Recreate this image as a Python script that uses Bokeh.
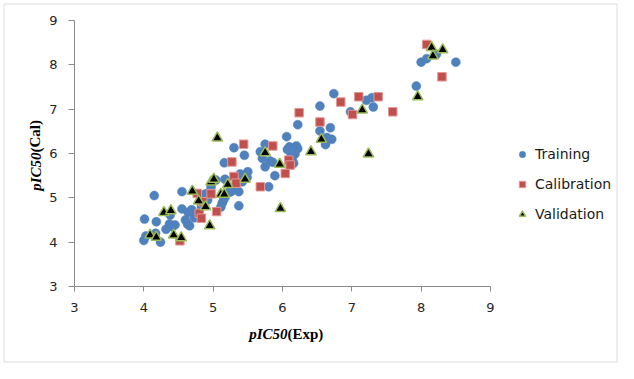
from bokeh.plotting import figure
from bokeh.models import (Range1d, Label, Legend, LegendItem, FixedTicker,
                          LinearAxis, BoxAnnotation)
from bokeh.embed import file_html
from bokeh.resources import INLINE

# ---- data ----
train_x = [4.00, 4.01, 4.03, 4.15, 4.18, 4.17, 4.24, 4.32, 4.37, 4.41, 4.45, 4.38,
           4.55, 4.55, 4.60, 4.63, 4.66, 4.64, 4.69, 4.73, 4.78, 4.83, 4.85, 4.88,
           4.92, 4.94, 4.97, 5.04, 5.11, 5.13, 5.15, 5.17, 5.17, 5.16, 5.22, 5.26,
           5.30, 5.33, 5.37, 5.39, 5.37, 5.42, 5.45, 5.49, 5.50, 5.68, 5.71, 5.75,
           5.75, 5.80, 5.82, 5.86, 5.89, 6.06, 6.07, 6.10, 6.12, 6.14, 6.16, 6.18,
           6.20, 6.22, 6.22, 6.54, 6.54, 6.62, 6.64, 6.69, 6.71, 6.74, 6.98, 7.21,
           7.29, 7.31, 7.93, 8.00, 8.08, 8.22, 8.50]
train_y = [4.04, 4.52, 4.14, 5.05, 4.46, 4.20, 4.00, 4.29, 4.41, 4.35, 4.39, 4.61,
           5.14, 4.75, 4.50, 4.41, 4.37, 4.67, 4.73, 4.55, 4.64, 4.80, 4.95, 5.08,
           4.95, 5.12, 5.25, 5.40, 4.79, 4.88, 4.95, 5.01, 5.42, 5.79, 5.12, 5.14,
           6.13, 5.27, 5.14, 5.54, 4.82, 5.36, 5.96, 5.46, 5.59, 6.04, 5.89, 6.21,
           5.70, 5.25, 5.83, 5.80, 5.50, 6.38, 6.09, 6.15, 5.93, 5.85, 5.78, 5.99,
           6.17, 6.65, 6.11, 7.07, 6.51, 6.20, 6.36, 6.58, 6.32, 7.35, 6.94, 7.20,
           7.26, 7.05, 7.52, 8.06, 8.14, 8.24, 8.06]

cal_x = [4.52, 4.77, 4.80, 4.83, 4.85, 4.97, 5.05, 5.27, 5.30, 5.33, 5.44, 5.68,
         5.86, 6.04, 6.09, 6.11, 6.24, 6.54, 6.84, 7.01, 7.10, 7.38, 7.59, 8.08, 8.30]
cal_y = [4.03, 5.10, 4.65, 4.54, 4.91, 5.09, 4.69, 5.81, 5.48, 5.33, 6.21, 5.25,
         6.17, 5.55, 5.85, 5.74, 6.92, 6.71, 7.16, 6.88, 7.28, 7.28, 6.94, 8.46, 7.73]

val_x = [4.09, 4.18, 4.29, 4.39, 4.43, 4.54, 4.70, 4.79, 4.89, 4.95, 4.97, 5.01,
         5.06, 5.11, 5.16, 5.21, 5.46, 5.75, 5.96, 5.97, 6.41, 6.56, 7.15, 7.24,
         7.95, 8.15, 8.17, 8.31]
val_y = [4.16, 4.11, 4.67, 4.71, 4.16, 4.10, 5.15, 4.93, 4.80, 4.37, 5.36, 5.42,
         6.35, 5.08, 5.08, 5.30, 5.42, 6.02, 5.76, 4.76, 6.04, 6.32, 6.98, 5.99,
         7.28, 8.39, 8.20, 8.34]

x_ticks = [3, 4, 5, 6, 7, 8, 9]
y_ticks = [3, 4, 5, 6, 7, 8, 9]
series_names = ["Training", "Calibration", "Validation"]

# ---- layout constants (pixels) ----
W, H = 618, 363
FL, FR, FT, FB = 74, 490, 20, 286          # where 3..9 sits on the canvas
sx = (FR - FL) / 6.0
sy = (FB - FT) / 6.0
x_lo, x_hi = 3 - FL / sx, 3 + (W - FL) / sx
y_lo, y_hi = 3 - (H - FB) / sy, 9 + FT / sy


def dx(px):
    return 3 + (px - FL) / sx


def dy(py):
    return 3 + (FB - py) / sy


p = figure(width=W, height=H, output_backend="svg", toolbar_location=None,
           x_range=Range1d(x_lo, x_hi), y_range=Range1d(y_lo, y_hi),
           x_axis_location=None, y_axis_location=None,
           min_border=0, min_border_left=0, min_border_right=0,
           min_border_top=0, min_border_bottom=0)
p.outline_line_color = None
p.xgrid.visible = False
p.ygrid.visible = False
p.background_fill_color = "white"
p.border_fill_color = "white"

# outer chart border
p.add_layout(BoxAnnotation(left=dx(3.5), right=dx(616.5), top=dy(3.5), bottom=dy(361.5),
                           fill_alpha=0, line_color="#8a8a8a", line_width=1))

xaxis = LinearAxis(fixed_location=3, bounds=(3, 9), ticker=FixedTicker(ticks=x_ticks))
yaxis = LinearAxis(fixed_location=3, bounds=(3, 9), ticker=FixedTicker(ticks=y_ticks))
p.add_layout(xaxis, "below")
p.add_layout(yaxis, "left")

for ax, standoff, tout in ((xaxis, 11, 5), (yaxis, 11, 6)):
    ax.axis_line_color = "#8a8a8a"
    ax.major_tick_line_color = "#8a8a8a"
    ax.major_tick_out = tout
    ax.major_tick_in = 0
    ax.minor_tick_line_color = None
    ax.major_label_text_font = "DejaVu Sans"
    ax.major_label_text_font_size = "13px"
    ax.major_label_text_color = "#262626"
    ax.major_label_standoff = standoff

r_train = p.scatter(train_x, train_y, marker="circle", size=9,
                    fill_color="#4F81BD", line_color="#4F81BD", line_width=0.5)
r_cal = p.scatter(cal_x, cal_y, marker="square", size=8.5,
                  fill_color="#C0504D", line_color="#E59896", line_width=1)
r_val = p.scatter(val_x, val_y, marker="triangle", size=10.5,
                  fill_color="#000000", line_color="#9BBB59", line_width=1.5)

legend = Legend(items=[LegendItem(label=series_names[0], renderers=[r_train]),
                       LegendItem(label=series_names[1], renderers=[r_cal]),
                       LegendItem(label=series_names[2], renderers=[r_val])],
                location=(514, 141), background_fill_alpha=0, border_line_alpha=0,
                padding=0, margin=0, spacing=14, glyph_height=16, glyph_width=16,
                label_standoff=5, label_text_font="DejaVu Sans",
                label_text_font_size="14px", label_text_color="#1a1a1a",
                label_height=14)
p.add_layout(legend)

# axis titles (mixed italic / bold serif)
fnt = "Liberation Serif"
xs, ys = dx(287), dy(333)
p.add_layout(Label(x=xs, y=ys, text="pIC50", text_align="right",
                   text_baseline="middle", text_font=fnt, text_font_size="15px",
                   text_font_style="bold italic", text_color="#000000"))
p.add_layout(Label(x=xs, y=ys, text="(Exp)", text_align="left",
                   text_baseline="middle", text_font=fnt, text_font_size="15px",
                   text_font_style="bold", text_color="#000000"))
yx, yy = dx(35), dy(152)
p.add_layout(Label(x=yx, y=yy, text="pIC50", angle=1.5708, text_align="right",
                   text_baseline="middle", text_font=fnt, text_font_size="15px",
                   text_font_style="bold italic", text_color="#000000"))
p.add_layout(Label(x=yx, y=yy, text="(Cal)", angle=1.5708, text_align="left",
                   text_baseline="middle", text_font=fnt, text_font_size="15px",
                   text_font_style="bold", text_color="#000000"))

open("out.html", "w").write(file_html(p, INLINE))
